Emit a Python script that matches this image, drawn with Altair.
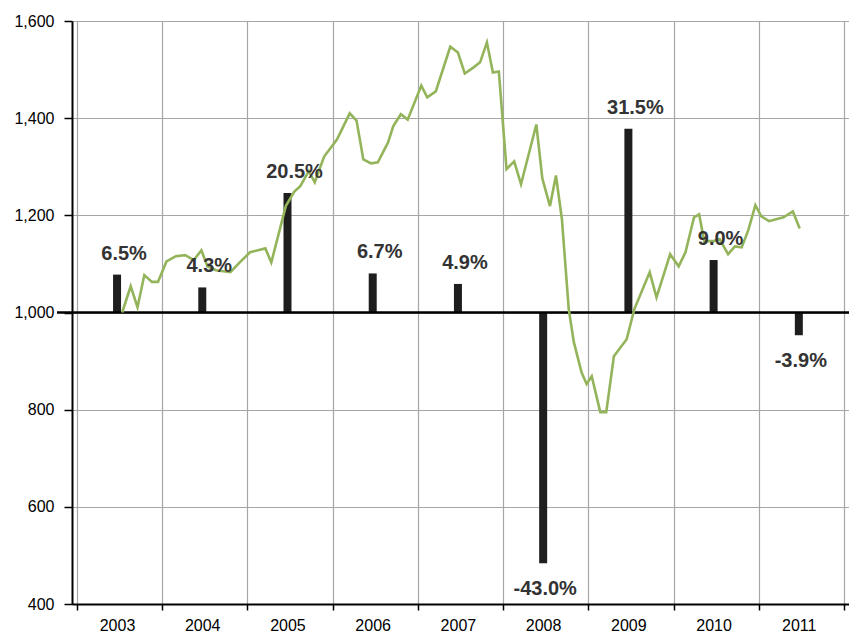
import altair as alt
import pandas as pd

# Annual returns (bars) by year
years = [2003, 2004, 2005, 2006, 2007, 2008, 2009, 2010, 2011]
returns = [6.5, 4.3, 20.5, 6.7, 4.9, -43.0, 31.5, 9.0, -3.9]
labels = ["6.5%", "4.3%", "20.5%", "6.7%", "4.9%", "-43.0%", "31.5%", "9.0%", "-3.9%"]

# Index level (line), time in decimal years
line_t = [2003.53, 2003.63, 2003.71, 2003.79, 2003.88, 2003.95, 2004.05, 2004.16,
          2004.27, 2004.37, 2004.46, 2004.53, 2004.63, 2004.80, 2004.91, 2005.03,
          2005.21, 2005.28, 2005.38, 2005.45, 2005.55, 2005.62, 2005.72, 2005.79,
          2005.90, 2006.05, 2006.20, 2006.28, 2006.36, 2006.45, 2006.53, 2006.65,
          2006.71, 2006.80, 2006.88, 2007.04, 2007.11, 2007.21, 2007.38, 2007.47,
          2007.55, 2007.65, 2007.73, 2007.81, 2007.88, 2007.95, 2008.04, 2008.13,
          2008.21, 2008.39, 2008.46, 2008.55, 2008.62, 2008.69, 2008.77, 2008.83,
          2008.92, 2008.98, 2009.04, 2009.14, 2009.21, 2009.30, 2009.45, 2009.54,
          2009.72, 2009.80, 2009.96, 2010.06, 2010.14, 2010.24, 2010.30, 2010.36,
          2010.47, 2010.54, 2010.64, 2010.72, 2010.80, 2010.88, 2010.96, 2011.03,
          2011.12, 2011.29, 2011.40, 2011.48]
line_v = [1000, 1054, 1011, 1077, 1063, 1063, 1105, 1116,
          1118, 1108, 1128, 1095, 1087, 1083, 1103, 1124,
          1132, 1103, 1171, 1219, 1249, 1260, 1291, 1268,
          1321, 1356, 1410, 1395, 1315, 1307, 1309, 1350,
          1383, 1408, 1397, 1467, 1443, 1455, 1547, 1535,
          1492, 1504, 1515, 1556, 1494, 1496, 1295, 1311,
          1264, 1387, 1276, 1219, 1282, 1192, 1007, 939,
          877, 853, 869, 795, 795, 910, 945, 1007,
          1083, 1031, 1120, 1095, 1124, 1196, 1202, 1147,
          1147, 1151, 1120, 1136, 1134, 1171, 1221, 1198,
          1188, 1196, 1208, 1173]

y_ticks = [400, 600, 800, 1000, 1200, 1400, 1600]

bars_df = pd.DataFrame({"t": [y + 0.47 for y in years], "r": returns, "label": labels})
line_df = pd.DataFrame({"t": line_t, "v": line_v})

W, H = 777, 583
FONT = "Liberation Sans"

xscale = alt.Scale(domain=[2003, 2012], nice=False, zero=False)
x_axis = alt.Axis(
    values=list(range(2003, 2013)),
    labelExpr="datum.value < 2012 ? '' + datum.value : ''",
    labelOffset=40, labelOverlap=False, labelFont=FONT, labelFontSize=16,
    labelColor="black", labelPadding=7, tickSize=6, tickColor="black",
    tickWidth=1.5, domainColor="black", domainWidth=2,
    grid=True, gridColor="#a6a6a6", gridWidth=1.2, title=None,
)
y_axis = alt.Axis(
    values=y_ticks, format=",.0f", labelFont=FONT, labelFontSize=16,
    labelColor="black", labelPadding=10, tickSize=8, tickColor="black",
    tickWidth=1.5, domainColor="black", domainWidth=2,
    grid=True, gridColor="#a6a6a6", gridWidth=1.2, title=None,
)

lvl_scale = alt.Scale(domain=[400, 1600], nice=False, zero=False)
pct_scale = alt.Scale(domain=[-50, 50], nice=False, zero=False)

bars = alt.Chart(bars_df).mark_bar(size=8, color="#1e1e1e").encode(
    x=alt.X("t:Q", scale=xscale, axis=x_axis),
    y=alt.Y("r:Q", scale=pct_scale, axis=None),
    y2=alt.datum(0),
)

base_rule = alt.Chart(pd.DataFrame({"v": [1000]})).mark_rule(
    color="black", strokeWidth=2.5
).encode(
    y=alt.Y("v:Q", scale=lvl_scale, axis=None),
    x=alt.value(-15), x2=alt.value(W),
)

line = alt.Chart(line_df).mark_line(color="#93b45a", strokeWidth=2.6).encode(
    x=alt.X("t:Q", scale=xscale, axis=x_axis),
    y=alt.Y("v:Q", scale=lvl_scale, axis=y_axis),
)

text_pos = alt.Chart(bars_df).transform_filter("datum.r >= 0").mark_text(
    font=FONT, fontSize=20, fontWeight="bold", color="#333333",
    baseline="bottom", dx=7, dy=-11,
).encode(
    x=alt.X("t:Q", scale=xscale, axis=x_axis),
    y=alt.Y("r:Q", scale=pct_scale, axis=None),
    text="label:N",
)

text_neg = alt.Chart(bars_df).transform_filter("datum.r < 0").mark_text(
    font=FONT, fontSize=20, fontWeight="bold", color="#333333",
    baseline="top", dx=2, dy=16,
).encode(
    x=alt.X("t:Q", scale=xscale, axis=x_axis),
    y=alt.Y("r:Q", scale=pct_scale, axis=None),
    text="label:N",
)

chart = alt.layer(bars, base_rule, line, text_pos, text_neg).resolve_scale(
    y="independent"
).properties(
    width=W, height=H,
    autosize=alt.AutoSizeParams(type="none"),
    padding={"left": 64, "top": 13, "right": 0, "bottom": 29},
).configure_view(stroke=None).configure(background="white")

chart.save("out.html", embed_options={"renderer": "svg", "actions": False})
